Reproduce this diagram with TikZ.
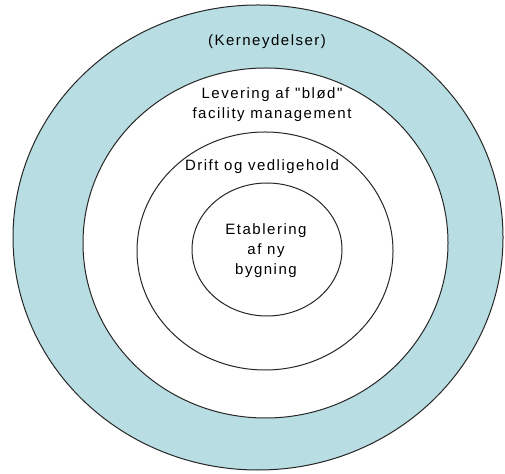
\documentclass[tikz,border=0pt]{standalone}
\usepackage{fontspec}
\setmainfont{Liberation Sans}[LetterSpace=10,Ligatures=TeXOff]
\begin{document}
\begin{tikzpicture}[x=1pt,y=1pt,
  ring/.style={draw=black!85,line width=1pt},
  lbl/.style={font=\fontsize{15}{20}\selectfont,align=center,inner sep=0pt}]
\definecolor{ringblue}{RGB}{184,221,226}
\useasboundingbox (0,0) rectangle (505,473);
\fill[white] (0,0) rectangle (505,473);
\draw[ring,fill=ringblue] (258,235.5) ellipse [x radius=245,y radius=232.5];
\draw[ring,fill=white] (265.5,230) ellipse [x radius=182.5,y radius=175];
\draw[ring,fill=white] (265,222) ellipse [x radius=128,y radius=119];
\draw[ring,fill=white] (267,223.5) ellipse [x radius=75,y radius=66.5];
\node[lbl] (core) at (267,431) {(Kerneydelser)};
\node[lbl] (soft) at (272,368) {Levering af "blød"\\facility management};
\node[lbl] (drift) at (262,306) {Drift og vedligehold};
\node[lbl] (etab) at (266,222) {Etablering\\af ny\\bygning};
\end{tikzpicture}
\end{document}
